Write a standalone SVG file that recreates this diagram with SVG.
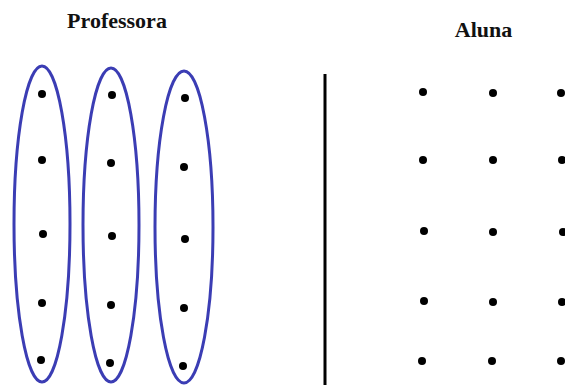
<svg xmlns="http://www.w3.org/2000/svg" width="565" height="385" viewBox="0 0 565 385">
<style>
.t{font-family:"Liberation Serif","Times New Roman",serif;font-weight:bold;font-size:22px;fill:#111;text-anchor:middle}
.e{fill:none;stroke:#3b3db4;stroke-width:3}
.d{fill:#000}
</style>
<rect width="565" height="385" fill="#fff"/>
<text class="t" x="117" y="28">Professora</text>
<text class="t" x="483.5" y="37">Aluna</text>
<g id="group1">
<ellipse class="e" cx="42" cy="224" rx="28" ry="158"/>
<circle class="d" cx="42" cy="94" r="4"/><circle class="d" cx="42" cy="160" r="4"/><circle class="d" cx="43" cy="234" r="4"/><circle class="d" cx="42" cy="303" r="4"/><circle class="d" cx="41" cy="360" r="4"/>
</g>
<g id="group2">
<ellipse class="e" cx="111" cy="225" rx="28" ry="157"/>
<circle class="d" cx="112" cy="95" r="4"/><circle class="d" cx="111" cy="163" r="4"/><circle class="d" cx="112" cy="236" r="4"/><circle class="d" cx="111" cy="305" r="4"/><circle class="d" cx="110" cy="363" r="4"/>
</g>
<g id="group3">
<ellipse class="e" cx="184" cy="227" rx="29" ry="156"/>
<circle class="d" cx="185" cy="98" r="4"/><circle class="d" cx="184" cy="167" r="4"/><circle class="d" cx="185" cy="239" r="4"/><circle class="d" cx="184" cy="308" r="4"/><circle class="d" cx="183" cy="366" r="4"/>
</g>
<line x1="325" y1="74" x2="325" y2="385" stroke="#000" stroke-width="3"/>
<g id="aluna-dots">
<circle class="d" cx="423" cy="92" r="4"/><circle class="d" cx="493" cy="93" r="4"/><circle class="d" cx="561" cy="93" r="4"/>
<circle class="d" cx="423" cy="160" r="4"/><circle class="d" cx="493" cy="160" r="4"/><circle class="d" cx="562" cy="160" r="4"/>
<circle class="d" cx="424" cy="231" r="4"/><circle class="d" cx="493" cy="232" r="4"/><circle class="d" cx="563" cy="232" r="4"/>
<circle class="d" cx="424" cy="301" r="4"/><circle class="d" cx="493" cy="302" r="4"/><circle class="d" cx="562" cy="302" r="4"/>
<circle class="d" cx="422" cy="361" r="4"/><circle class="d" cx="492" cy="361" r="4"/><circle class="d" cx="561" cy="361" r="4"/>
</g>
</svg>
